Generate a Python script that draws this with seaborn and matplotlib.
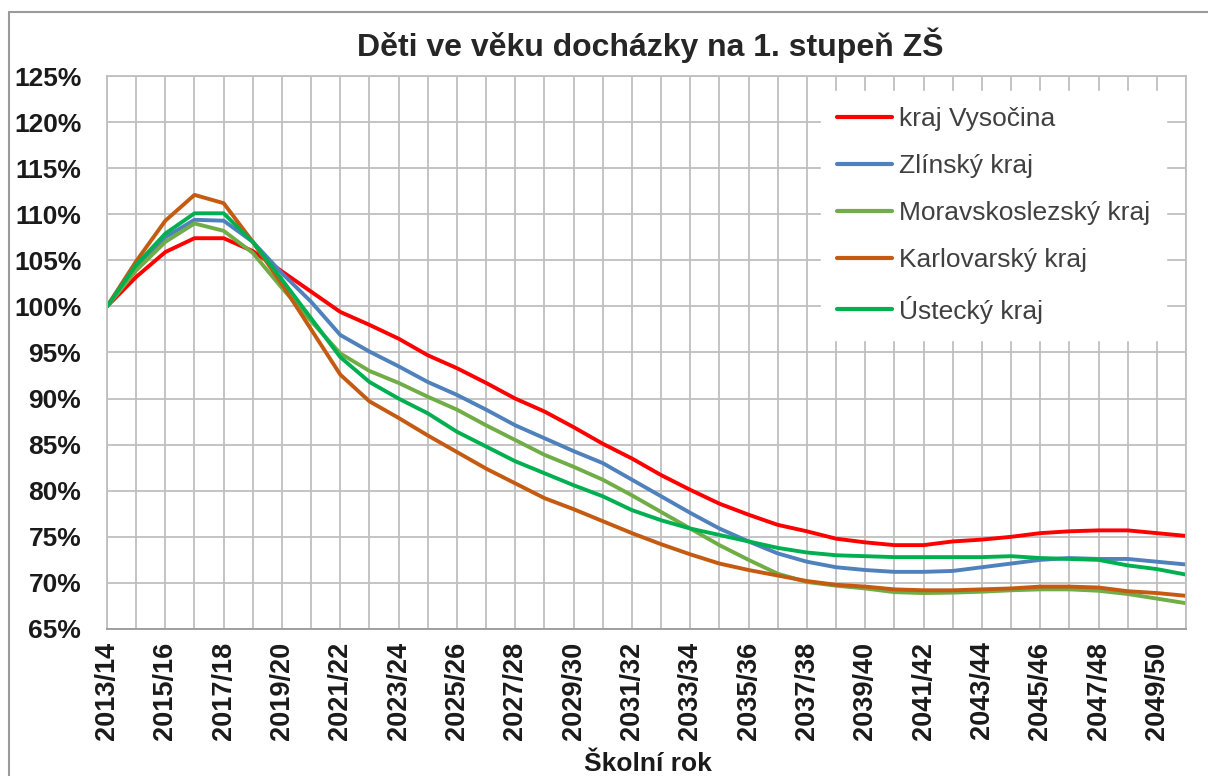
import numpy as np
import pandas as pd
import matplotlib
matplotlib.use("Agg")
import matplotlib.pyplot as plt
from matplotlib.lines import Line2D
from matplotlib.ticker import FixedLocator, FuncFormatter
import seaborn as sns

years = [f"{y}/{(y + 1) % 100:02d}" for y in range(2013, 2051)]

vysocina = [100, 103.2, 105.9, 107.4, 107.4, 106.0, 103.8, 101.6, 99.4, 98.0,
            96.5, 94.7, 93.3, 91.7, 90.0, 88.6, 86.9, 85.1, 83.5, 81.7,
            80.1, 78.6, 77.4, 76.3, 75.6, 74.8, 74.4, 74.1, 74.1, 74.5,
            74.7, 75.0, 75.4, 75.6, 75.7, 75.7, 75.4, 75.1]
zlinsky = [100, 104.1, 107.5, 109.4, 109.3, 107.0, 103.6, 100.5, 96.9, 95.1,
           93.5, 91.8, 90.4, 88.8, 87.1, 85.7, 84.3, 83.0, 81.2, 79.4,
           77.6, 75.9, 74.5, 73.2, 72.3, 71.7, 71.4, 71.2, 71.2, 71.3,
           71.7, 72.1, 72.5, 72.7, 72.6, 72.6, 72.3, 72.0]
moravskoslezsky = [100, 103.9, 107.0, 109.0, 108.2, 105.8, 102.0, 98.4, 94.9, 93.0,
                   91.7, 90.2, 88.8, 87.1, 85.5, 83.9, 82.6, 81.2, 79.5, 77.7,
                   75.9, 74.1, 72.5, 71.0, 70.1, 69.7, 69.4, 69.0, 68.9, 68.95,
                   69.05, 69.2, 69.3, 69.3, 69.15, 68.8, 68.3, 67.8]
karlovarsky = [100, 104.9, 109.3, 112.1, 111.2, 107.0, 102.4, 97.5, 92.6, 89.7,
               87.9, 86.0, 84.2, 82.4, 80.8, 79.2, 78.0, 76.7, 75.4, 74.2,
               73.1, 72.1, 71.4, 70.8, 70.2, 69.8, 69.6, 69.3, 69.2, 69.2,
               69.3, 69.4, 69.6, 69.6, 69.5, 69.1, 68.9, 68.6]
ustecky = [100, 104.5, 107.9, 110.1, 110.1, 107.0, 102.9, 98.7, 94.5, 91.8,
           90.0, 88.4, 86.4, 84.8, 83.2, 81.9, 80.6, 79.4, 77.9, 76.8,
           75.9, 75.2, 74.5, 73.8, 73.3, 73.0, 72.9, 72.8, 72.8, 72.8,
           72.8, 72.9, 72.7, 72.6, 72.5, 71.9, 71.5, 70.9]

series_names = ["kraj Vysočina", "Zlínský kraj", "Moravskoslezský kraj",
                "Karlovarský kraj", "Ústecký kraj"]
series_values = [vysocina, zlinsky, moravskoslezsky, karlovarsky, ustecky]
colors = ["#FF0000", "#4F81BD", "#70AD47", "#C55A11", "#00B050"]

title = "Děti ve věku docházky na 1. stupeň ZŠ"
xlabel = "Školní rok"
y_ticks = [65, 70, 75, 80, 85, 90, 95, 100, 105, 110, 115, 120, 125]

rows = []
for name, vals in zip(series_names, series_values):
    for i, v in enumerate(vals):
        rows.append({"idx": i, "rok": years[i], "kraj": name, "hodnota": v})
df = pd.DataFrame(rows)

sns.set_style("white")
plt.rcParams["font.family"] = ["Liberation Sans", "DejaVu Sans"]

W, H = 1208, 776
L, R, T, B = 107, 1186, 76, 629
fig = plt.figure(figsize=(W / 100, H / 100), dpi=100)
ax = fig.add_axes([L / W, 1 - B / H, (R - L) / W, (B - T) / H])

sns.lineplot(data=df, x="idx", y="hodnota", hue="kraj", hue_order=series_names,
             palette=colors, linewidth=2.8, ax=ax, legend=False, sort=False)

ax.set_xlim(0, len(years) - 1)
ax.set_ylim(65, 125)
ax.xaxis.set_major_locator(FixedLocator(list(range(len(years)))))
ax.set_xticklabels([years[i] if i % 2 == 0 else "" for i in range(len(years))],
                   rotation=90, fontsize=19.5, fontweight="bold", color="#1a1a1a")
ax.yaxis.set_major_locator(FixedLocator(y_ticks))
ax.yaxis.set_major_formatter(FuncFormatter(lambda v, p: f"{int(round(v))}%"))
for lab in ax.get_yticklabels():
    lab.set_fontsize(19)
    lab.set_fontweight("bold")
    lab.set_color("#1a1a1a")
ax.tick_params(axis="x", length=0, pad=9)
ax.tick_params(axis="y", length=0, pad=18.5)
ax.grid(True, color="#BFBFBF", linewidth=1.3)
ax.set_axisbelow(True)
for s in ax.spines.values():
    s.set_color("#BFBFBF")
    s.set_linewidth(1.3)
ax.spines["bottom"].set_color("#9A9A9A")

ax.set_xlabel(xlabel, fontsize=19, fontweight="bold", color="#1a1a1a")
ax.xaxis.set_label_coords((648 - L) / (R - L), (B - 752) / (B - T))
ax.set_ylabel("")
fig.text(650 / W, 1 - 45 / H, title, ha="center", va="center", fontsize=23,
         fontweight="bold", color="#262626")

handles = [Line2D([0], [0], color=c, lw=3) for c in colors]
leg = ax.legend(handles, series_names, loc="upper left",
                bbox_to_anchor=((821 - L) / (R - L), (B - 91) / (B - T)),
                borderaxespad=0, frameon=True, fontsize=19, handlelength=2.1,
                handletextpad=0.25, labelspacing=0.88, borderpad=0.6, fancybox=False)
leg.get_frame().set_facecolor("white")
leg.get_frame().set_edgecolor("white")
leg.get_frame().set_alpha(1)
for t in leg.get_texts():
    t.set_color("#404040")

# outer chart border
fig.add_artist(Line2D([9 / W, 9 / W], [0, 1 - 12 / H], color="#9A9A9A",
                      lw=1.5, transform=fig.transFigure))
fig.add_artist(Line2D([9 / W, 1], [1 - 12 / H, 1 - 12 / H], color="#9A9A9A",
                      lw=1.5, transform=fig.transFigure))

fig.savefig("out.png", dpi=100)
